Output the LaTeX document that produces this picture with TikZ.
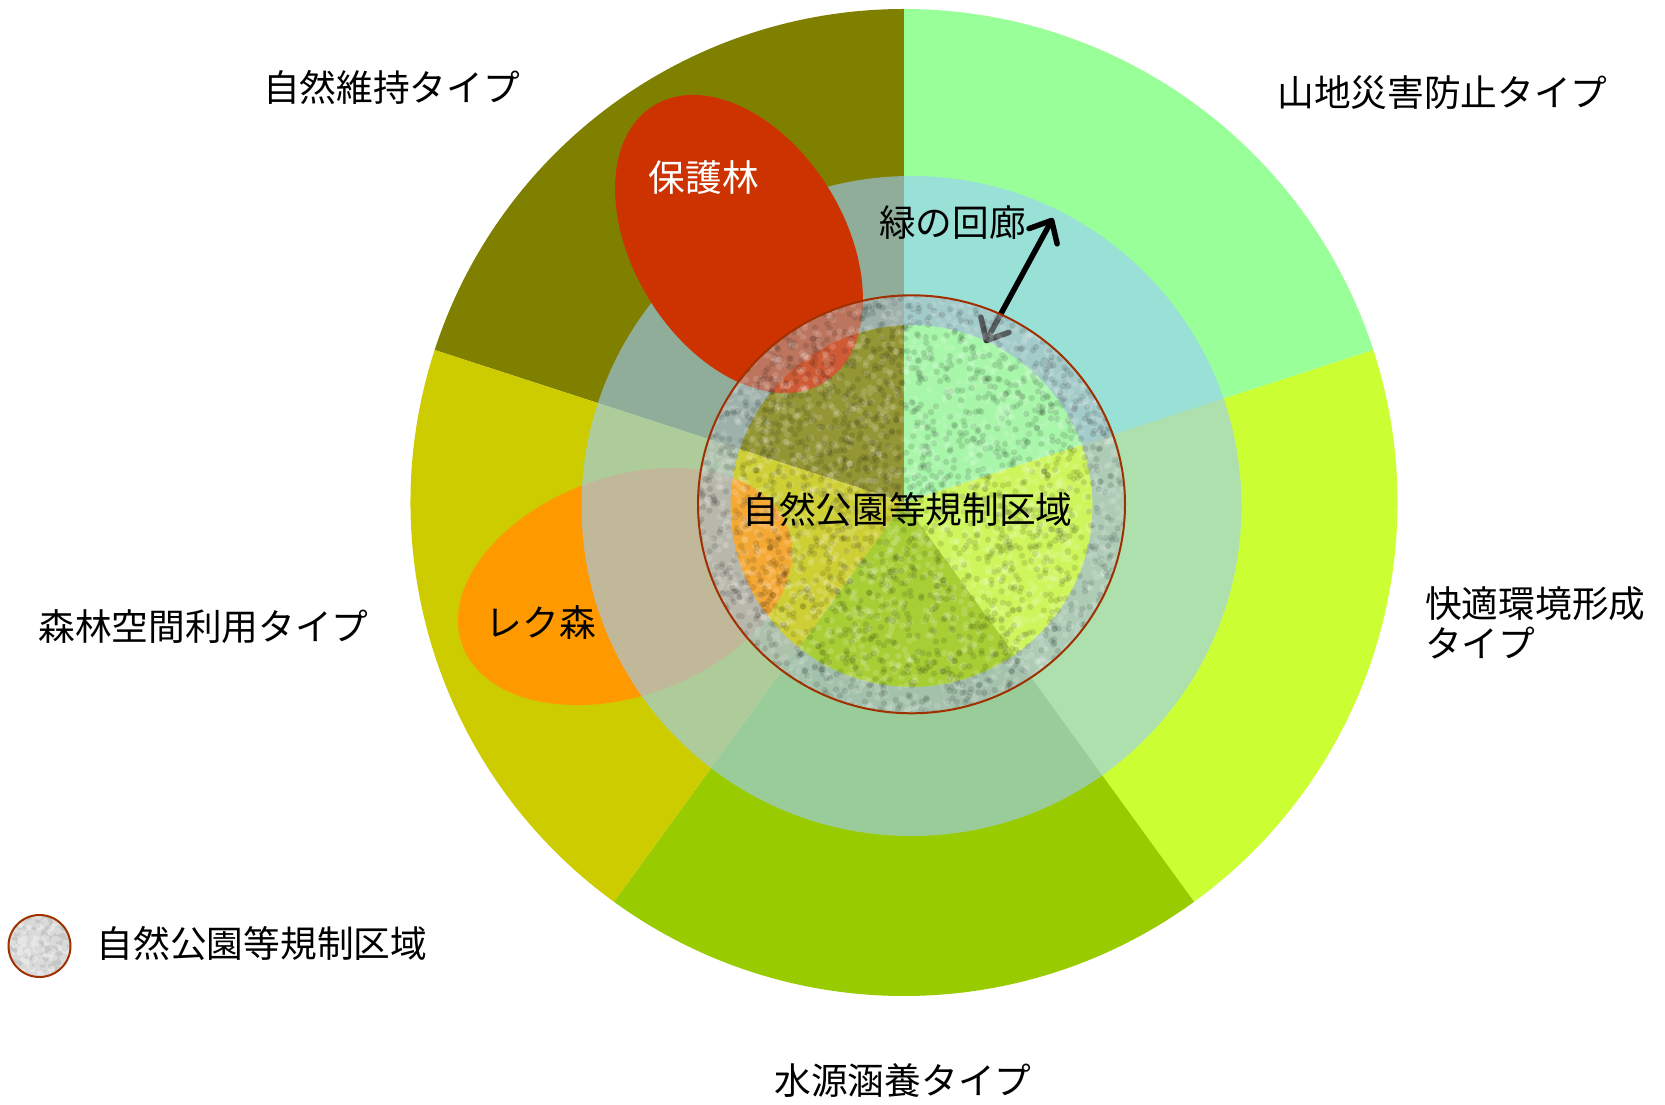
\documentclass[tikz,border=0pt]{standalone}
\usepackage{fontspec}
\setmainfont{Noto Sans CJK JP}
\usetikzlibrary{arrows.meta}
\definecolor{cOlive}{HTML}{808000}
\definecolor{cLgreen}{HTML}{99FF99}
\definecolor{cLime}{HTML}{CCFF33}
\definecolor{cGreen}{HTML}{99CC00}
\definecolor{cYellow}{HTML}{CCCC00}
\definecolor{cBlue}{HTML}{99CCFF}
\definecolor{cRed}{HTML}{CC3300}
\definecolor{cOrange}{HTML}{FF9900}
\definecolor{cEdge}{HTML}{A03000}
\definecolor{cTex}{HTML}{AEB8BE}
\begin{document}
\begin{tikzpicture}[x=1pt,y=1pt,
  lbl/.style={font=\fontsize{36.7}{40}\selectfont, inner sep=0pt, text=black},
  barb/.tip={Straight Barb[length=18pt,width=32pt,round]}]
\useasboundingbox (0,0) rectangle (1665,1104);
\fill[white] (0,0) rectangle (1665,1104);
\pgfmathsetseed{12345}
% outer pie
\coordinate (O) at (904,601.5);
\def\R{493.5}
\fill[cOlive]  (O) -- ++(90:\R)  arc[start angle=90,  end angle=162, radius=\R] -- cycle;
\fill[cLgreen] (O) -- ++(18:\R)  arc[start angle=18,  end angle=90,  radius=\R] -- cycle;
\fill[cLime]   (O) -- ++(-54:\R) arc[start angle=-54, end angle=18,  radius=\R] -- cycle;
\fill[cGreen]  (O) -- ++(-126:\R) arc[start angle=-126, end angle=-54, radius=\R] -- cycle;
\fill[cYellow] (O) -- ++(162:\R) arc[start angle=162, end angle=234, radius=\R] -- cycle;
% orange ellipse (under corridor ring)
\fill[cOrange, rotate around={19.7:(625,517.5)}] (625,517.5) ellipse [x radius=173, y radius=109.6];
% green corridor ring
\coordinate (M) at (911.5,598);
\fill[cBlue, fill opacity=0.6, even odd rule] (M) circle (330) (M) circle (181);
% red ellipse
\fill[cRed, rotate around={-58.3:(739,860)}] (739,860) ellipse [x radius=162.6, y radius=105.5];
% arrow
\coordinate (arrA) at (985,761);
\coordinate (arrB) at (1053,886);
\draw[line width=5.5pt, barb-barb] (arrA) -- (arrB);
% textured regulated area
\coordinate (C) at (911.5,599.7);
\begin{scope}
\clip (C) ellipse [x radius=213.5, y radius=209];
\fill[cTex, fill opacity=0.5, even odd rule] (C) ellipse [x radius=213.5, y radius=209] (M) circle (181);
\fill[cTex!50!white, fill opacity=0.24] (M) circle (181);
\foreach \j in {1,...,24}{
  \fill[black, fill opacity=0.11] foreach \i in {1,...,100} {({911.5+214*rand},{599.7+210*rand}) circle (3.2)};
  \fill[white, fill opacity=0.14] foreach \i in {1,...,100} {({911.5+214*rand},{599.7+210*rand}) circle (3.2)};
}
\end{scope}
\draw[cEdge, line width=2pt] (C) ellipse [x radius=213.5, y radius=209];
% legend symbol
\coordinate (L) at (39.5,158);
\begin{scope}
\clip (L) circle (31);
\fill[gray!30] (L) circle (31);
\fill[black, fill opacity=0.08] foreach \i in {1,...,100} {({39.5+31*rand},{158+31*rand}) circle (3)};
\fill[white, fill opacity=0.35] foreach \i in {1,...,100} {({39.5+31*rand},{158+31*rand}) circle (3)};
\end{scope}
\draw[cEdge, line width=2pt] (L) circle (31);
% labels
\node[lbl] (tShizen) at (391.5,1017) {自然維持タイプ};
\node[lbl] (tSanchi) at (1442.5,1011) {山地災害防止タイプ};
\node[lbl, anchor=west, align=left] (tKaiteki) at (1425,481) {快適環境形成\\タイプ};
\node[lbl] (tSuigen) at (903,23) {水源涵養タイプ};
\node[lbl] (tShinrin) at (203.5,477) {森林空間利用タイプ};
\node[lbl, text=white] (tHogo) at (704,926) {保護林};
\node[lbl] (tKairo) at (952.5,881) {緑の回廊};
\node[lbl] (tKisei) at (907.5,594) {自然公園等規制区域};
\node[lbl] (tReku) at (541,481) {レク森};
\node[lbl] (tLegend) at (262,161) {自然公園等規制区域};
\end{tikzpicture}
\end{document}
